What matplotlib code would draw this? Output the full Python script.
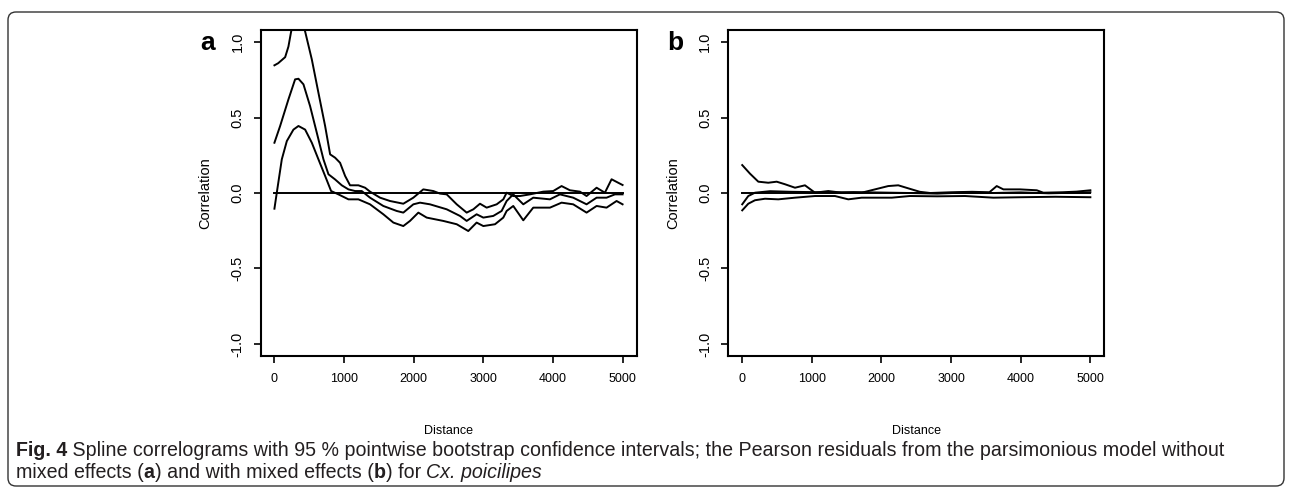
import matplotlib
matplotlib.use("Agg")
import matplotlib.pyplot as plt
from matplotlib.patches import FancyBboxPatch
from matplotlib.transforms import IdentityTransform

# panel a: spline correlogram without mixed effects (distance, correlation)
a_up_d = [0, 54, 154, 201, 240, 340, 441, 537, 632, 728, 800, 871, 943, 1015, 1086, 1206, 1302, 1373,
          1517, 1660, 1851, 1995, 2138, 2282, 2378, 2474, 2618, 2761, 2857, 2952, 3048, 3192, 3287, 3335,
          3430, 3526, 3670, 3861, 4004, 4124, 4244, 4387, 4483, 4627, 4746, 4842, 4937, 5000]
a_up_y = [0.846, 0.86, 0.90, 0.97, 1.07, 1.2, 1.07, 0.885, 0.664, 0.444, 0.256, 0.234, 0.20, 0.113, 0.051,
          0.051, 0.035, 0.009, -0.031, -0.053, -0.071, -0.031, 0.024, 0.013, -0.004, -0.009, -0.075, -0.13,
          -0.108, -0.071, -0.097, -0.075, -0.042, 0.002, -0.02, -0.02, -0.009, 0.009, 0.013, 0.046, 0.018,
          0.009, -0.02, 0.035, 0.002, 0.091, 0.068, 0.053]
a_mid_d = [0, 82, 201, 297, 345, 417, 512, 608, 704, 776, 871, 967, 1063, 1158, 1254, 1373, 1564, 1756,
           1851, 1995, 2091, 2234, 2474, 2665, 2761, 2904, 3000, 3143, 3263, 3335, 3430, 3574, 3717, 3957,
           4100, 4291, 4483, 4627, 4770, 4890, 5000]
a_mid_y = [0.333, 0.444, 0.62, 0.753, 0.757, 0.72, 0.576, 0.40, 0.223, 0.124, 0.09, 0.051, 0.024, 0.013,
           0.013, -0.031, -0.086, -0.119, -0.13, -0.075, -0.064, -0.075, -0.108, -0.152, -0.185, -0.141,
           -0.163, -0.152, -0.119, -0.053, -0.009, -0.075, -0.031, -0.042, -0.009, -0.031, -0.075, -0.031,
           -0.031, -0.009, -0.009]
a_low_d = [0, 34, 106, 178, 273, 345, 441, 537, 632, 728, 814, 919, 1063, 1206, 1373, 1564, 1708, 1851,
           1947, 2067, 2187, 2425, 2618, 2784, 2904, 3000, 3168, 3287, 3335, 3430, 3574, 3717, 3957, 4124,
           4291, 4483, 4627, 4770, 4914, 5000]
a_low_y = [-0.104, 0.002, 0.223, 0.344, 0.42, 0.444, 0.42, 0.333, 0.223, 0.113, 0.013, -0.009, -0.042,
           -0.042, -0.075, -0.141, -0.196, -0.219, -0.185, -0.13, -0.163, -0.185, -0.207, -0.252, -0.196,
           -0.219, -0.207, -0.163, -0.119, -0.086, -0.181, -0.097, -0.097, -0.064, -0.075, -0.13, -0.086,
           -0.097, -0.053, -0.075]

# panel b: with mixed effects
b_up_d = [0, 112, 231, 374, 495, 614, 758, 901, 1045, 1236, 1428, 1715, 1906, 2097, 2241, 2384, 2550,
          2700, 3000, 3300, 3550, 3655, 3751, 3990, 4230, 4325, 4600, 4800, 5000]
b_up_y = [0.185, 0.128, 0.075, 0.068, 0.075, 0.058, 0.035, 0.051, 0.002, 0.013, 0.002, 0.002, 0.024,
          0.046, 0.051, 0.031, 0.008, 0.0, 0.005, 0.008, 0.005, 0.046, 0.024, 0.024, 0.018, 0.002, 0.005,
          0.009, 0.018]
b_mid_d = [0, 87, 183, 400, 700, 1000, 1300, 1600, 2000, 2400, 2800, 3200, 3600, 4000, 4400, 4800, 5000]
b_mid_y = [-0.075, -0.02, 0.002, 0.012, 0.008, 0.006, 0.004, 0.006, 0.003, 0.0, -0.004, 0.003, 0.0,
           0.004, -0.002, 0.002, 0.005]
b_low_d = [0, 87, 183, 327, 518, 758, 1045, 1332, 1523, 1715, 1954, 2148, 2407, 2800, 3200, 3607, 4000,
           4500, 5000]
b_low_y = [-0.115, -0.071, -0.048, -0.038, -0.042, -0.031, -0.02, -0.02, -0.042, -0.031, -0.031, -0.031,
           -0.02, -0.022, -0.02, -0.031, -0.028, -0.025, -0.028]

xticks = [0, 1000, 2000, 3000, 4000, 5000]
yticks = [-1.0, -0.5, 0.0, 0.5, 1.0]

W, H = 1290, 488
fig = plt.figure(figsize=(W / 100, H / 100), dpi=100)
plt.rcParams["font.family"] = ["Liberation Sans", "DejaVu Sans"]

# rounded frame around figure + caption
frame = FancyBboxPatch((8, 2), 1276, H - 14, boxstyle="round,pad=0,rounding_size=8",
                       transform=IdentityTransform(), fill=False, ec="#333333", lw=1.0)
fig.patches.append(frame)


def panel(left, ups, letter):
    ax = fig.add_axes([left / W, 132 / H, 376 / W, 326 / H])
    for d, y in ups:
        ax.plot(d, y, color="black", lw=1.4)
    ax.plot([0, 5000], [0, 0], color="black", lw=1.4)
    ax.set_xlim(-200, 5200)
    ax.set_ylim(-1.08, 1.08)
    ax.set_xticks(xticks)
    ax.set_xticklabels([str(t) for t in xticks], fontsize=9)
    ax.set_yticks(yticks)
    ax.set_yticklabels(["%.1f" % t for t in yticks], fontsize=10.5, rotation=90, va="center")
    ax.tick_params(direction="out", length=5, width=1.2)
    ax.tick_params(axis="x", pad=7.5)
    ax.tick_params(axis="y", pad=6.5)
    for s in ax.spines.values():
        s.set_linewidth(1.5)
    ax.set_ylabel("Correlation", fontsize=10.5, va="center")
    ax.yaxis.set_label_coords(-55.5 / 376, 0.5)
    ax.set_xlabel("Distance", fontsize=9, va="center")
    ax.xaxis.set_label_coords(0.5, (356 - 431) / 326)
    fig.text((left - 53) / W, 1 - 43 / H, letter, fontsize=19, fontweight="bold",
             ha="center", va="center")
    return ax


panel(260.5, [(a_up_d, a_up_y), (a_mid_d, a_mid_y), (a_low_d, a_low_y)], "a")
panel(728.3, [(b_up_d, b_up_y), (b_mid_d, b_mid_y), (b_low_d, b_low_y)], "b")

# caption with mixed styles
cap_size = 14.1
line1 = [("Fig. 4", "bold", "normal"),
         (" Spline correlograms with 95 % pointwise bootstrap confidence intervals; the Pearson residuals "
          "from the parsimonious model without", "normal", "normal")]
line2 = [("mixed effects (", "normal", "normal"), ("a", "bold", "normal"),
         (") and with mixed effects (", "normal", "normal"), ("b", "bold", "normal"),
         (") for ", "normal", "normal"), ("Cx. poicilipes", "normal", "italic")]

renderer = fig.canvas.get_renderer()
for pieces, ypx in [(line1, 451), (line2, 472)]:
    x = 16
    for txt, wt, st in pieces:
        t = fig.text(x / W, 1 - ypx / H, txt, fontsize=cap_size, fontweight=wt, fontstyle=st,
                     ha="left", va="center", color="#231f20")
        x += t.get_window_extent(renderer).width

fig.savefig("out.png", dpi=100)
